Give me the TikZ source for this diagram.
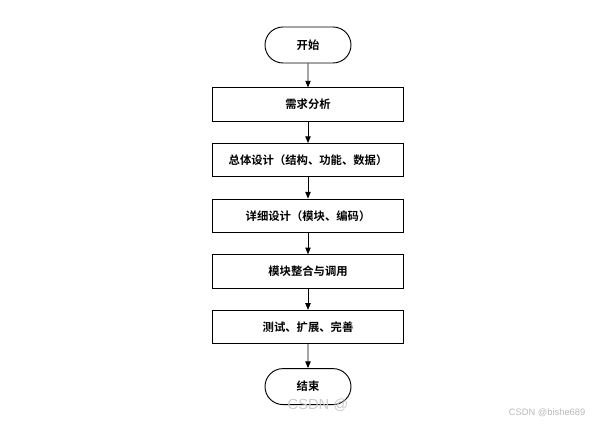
\documentclass[tikz,border=0pt]{standalone}
\usepackage{fontspec}
\setmainfont{Liberation Sans}
\newfontfamily\cjk{Noto Sans CJK SC}[BoldFont={Noto Sans CJK SC Bold}]
\usetikzlibrary{arrows.meta,positioning,shapes.misc}

\begin{document}
\begin{tikzpicture}[x=0.75pt, y=-0.75pt, node distance=16pt,
  every node/.style={font=\cjk\bfseries\fontsize{8.5}{10}\selectfont},
  box/.style={draw, line width=0.7pt, minimum height=25pt, minimum width=143.5pt, align=center, inner sep=0pt},
  term/.style={draw, line width=0.7pt, rounded rectangle, minimum height=27pt, minimum width=64.5pt, inner sep=0pt},
  arr/.style={-{Triangle[length=5pt, width=4pt]}, line width=0.7pt},
  mark text/.style={font=\fontsize{7}{8}\selectfont, text=gray!55}]
\useasboundingbox (0,0) rectangle (600,424);
\node[term] (start) at (308,45) {开始};
\node[box, below=18pt of start] (req) {需求分析};
\node[box, below=of req] (overall) {总体设计（结构、功能、数据）};
\node[box, below=of overall] (detail) {详细设计（模块、编码）};
\node[box, below=of detail] (integ) {模块整合与调用};
\node[box, below=of integ] (test) {测试、扩展、完善};
\node[term, below=18pt of test] (stop) {结束};
\draw[arr] (start) -- (req);
\draw[arr] (req) -- (overall);
\draw[arr] (overall) -- (detail);
\draw[arr] (detail) -- (integ);
\draw[arr] (integ) -- (test);
\draw[arr] (test) -- (stop);
% watermarks
\node[mark text, font=\fontsize{11}{12}\selectfont, text=gray!40] (wm) at (318,405) {CSDN @};
\node[mark text, anchor=east] (wmr) at (590,413) {CSDN @bishe689};
\end{tikzpicture}
\end{document}
